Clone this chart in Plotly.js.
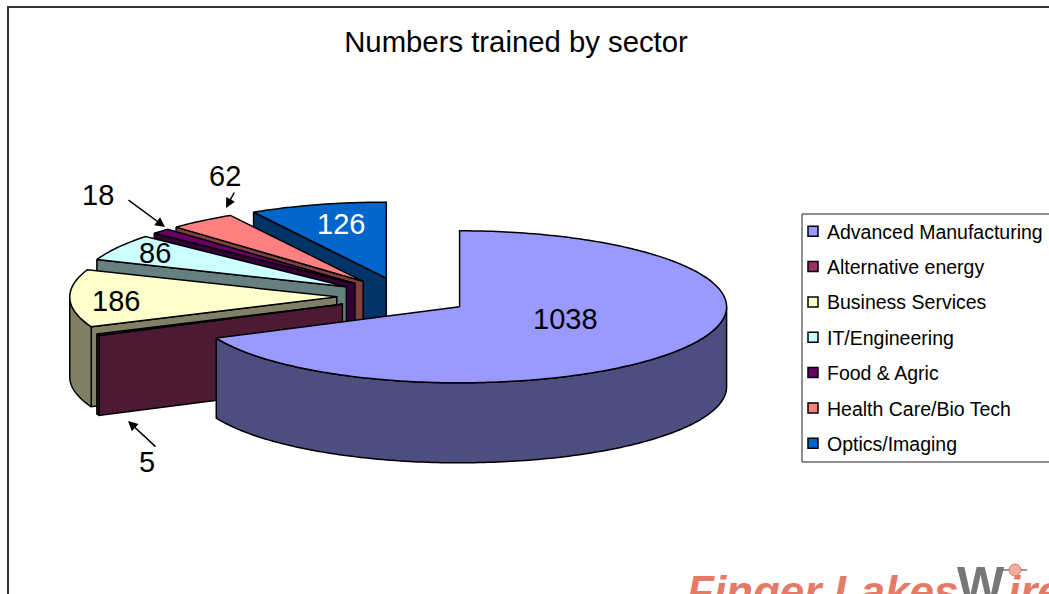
<!DOCTYPE html>
<html><head><meta charset="utf-8">
<script src="https://cdn.plot.ly/plotly-3.0.1.min.js"></script>
<style>html,body{margin:0;padding:0;background:#fff;overflow:hidden}</style>
</head><body><div id="chart" style="width:1049px;height:594px"></div>
<script>
const categories = ["Advanced Manufacturing","Alternative energy","Business Services","IT/Engineering","Food & Agric","Health Care/Bio Tech","Optics/Imaging"];
const values = [1038,5,186,86,18,62,126];
const topColors = ["#9999FF","#993366","#FFFFCC","#CCFFFF","#660066","#FF8080","#0066CC"];
const wallColors = ["#4D4D80","#4D1A33","#808066","#668080","#330033","#804040","#003366"];

// 3-D pie projection (axis units = page pixels)
const pie = {cx:403.5, cy:296.5, rx:267, ry:76, depth:80, explode:0.25};
const outline = {color:"#000", width:1.5};
const FONT = "Liberation Sans, Arial, sans-serif";
const rad = d => d*Math.PI/180;
const total = values.reduce((a,b)=>a+b,0);
let acc = 0;
const slices = values.map((v,i)=>{
  const start = acc/total*360; acc += v; const end = acc/total*360; const mid=(start+end)/2;
  return {i,start,end,
    cx: pie.cx + pie.explode*pie.rx*Math.sin(rad(mid)),
    cy: pie.cy - pie.explode*pie.ry*Math.cos(rad(mid))};
});
const rimPt = (s,a,dz=0)=>[s.cx+pie.rx*Math.sin(rad(a)), s.cy-pie.ry*Math.cos(rad(a))+dz];
function arc(s,a0,a1,dz=0){
  const pts=[]; const n=Math.max(2,Math.ceil(Math.abs(a1-a0)));
  for(let k=0;k<=n;k++) pts.push(rimPt(s,a0+(a1-a0)*k/n,dz));
  return pts;
}
function poly(pts,color){
  return {type:"scatter",mode:"lines",x:pts.map(p=>p[0]),y:pts.map(p=>p[1]),fill:"toself",
    fillcolor:color,line:{color:outline.color,width:outline.width,simplify:false},
    hoverinfo:"skip",showlegend:false};
}
const traces=[];
[...slices].reverse().forEach(s=>{
  // radial wall on the start edge (only when it faces the viewer)
  if(s.start>180){
    const p=rimPt(s,s.start);
    traces.push(poly([p,[s.cx,s.cy],[s.cx,s.cy+pie.depth],[p[0],p[1]+pie.depth],p],wallColors[s.i]));
  }
  // outer rim wall, front half only
  const a0=Math.max(s.start,90), a1=Math.min(s.end,270);
  if(a1>a0){
    const up=arc(s,a0,a1), down=arc(s,a1,a0,pie.depth);
    traces.push(poly([...up,...down,up[0]],wallColors[s.i]));
  }
  // top face
  const rim=arc(s,s.start,s.end);
  traces.push(poly([[s.cx,s.cy],...rim,[s.cx,s.cy]],topColors[s.i]));
});
// legend entries
categories.forEach((c,i)=>traces.push({type:"scatter",mode:"markers",x:[null],y:[null],name:c,legendgroup:c,
  marker:{symbol:"square",size:10,color:topColors[i],line:{color:"#000",width:1.5}},hoverinfo:"skip"}));

const labelPos = [[565,319],[147,462],[116,301],[155,253],[98,195],[225,176],[341,224]];
const labelColor = ["#000","#000","#000","#000","#000","#000","#fff"];
const annotations = values.map((v,i)=>({xref:"x",yref:"y",x:labelPos[i][0],y:labelPos[i][1],text:String(v),showarrow:false,
  xanchor:"center",yanchor:"middle",font:{family:FONT,size:29,color:labelColor[i]}}));
const arrows = [[157,448,128,421],[127,199,165,227],[235,191,226,208]];
arrows.forEach(a=>annotations.push({xref:"x",yref:"y",axref:"x",ayref:"y",ax:a[0],ay:a[1],x:a[2],y:a[3],text:"",showarrow:true,
  arrowhead:2,arrowsize:1.3,arrowwidth:1.5,arrowcolor:"#000"}));
// cropped logo at the foot of the page
annotations.push({xref:"x",yref:"y",x:685,y:565,text:"<b><i>Finger Lakes</i></b>",showarrow:false,xanchor:"left",yanchor:"top",
  font:{family:FONT,size:44,color:"#E57A68"}});
annotations.push({xref:"x",yref:"y",x:955,y:555,text:"<b>W</b>",showarrow:false,xanchor:"left",yanchor:"top",
  font:{family:FONT,size:50,color:"#777"}});
annotations.push({xref:"x",yref:"y",x:1006,y:565,text:"<b><i>ire</i></b>",showarrow:false,xanchor:"left",yanchor:"top",
  font:{family:FONT,size:44,color:"#E57A68"}});

const layout={width:1049,height:594,margin:{l:0,r:0,t:0,b:0,pad:0,autoexpand:false},paper_bgcolor:"#fff",plot_bgcolor:"#fff",
  title:{text:"Numbers trained by sector",x:516/1049,y:1-42/594,xanchor:"center",yanchor:"middle",font:{family:FONT,size:29.3,color:"#000"}},
  xaxis:{range:[0,1049],visible:false,fixedrange:true},
  yaxis:{range:[594,0],visible:false,fixedrange:true},
  showlegend:true,
  legend:{x:802/1049,xanchor:"left",y:1-212/594,yanchor:"top",indentation:-15,itemwidth:30,tracegroupgap:7,
    font:{family:FONT,size:19.5,color:"#000"},bgcolor:"rgba(0,0,0,0)",borderwidth:0,itemclick:false,itemdoubleclick:false},
  shapes:[
    {type:"rect",xref:"x",yref:"y",x0:8,x1:1070,y0:7,y1:640,line:{color:"#333",width:2},layer:"below"},
    {type:"rect",xref:"x",yref:"y",x0:802,x1:1070,y0:214,y1:462,line:{color:"#222",width:1},layer:"below"},
    {type:"line",xref:"x",yref:"y",x0:1003,x1:1027,y0:570,y1:570,line:{color:"#999",width:2},layer:"above"},
    {type:"circle",xref:"x",yref:"y",x0:1009,x1:1021,y0:564,y1:576,line:{color:"#E57A68",width:1},fillcolor:"#F0B0A0",layer:"above"}
  ],
  annotations};
Plotly.newPlot("chart",traces,layout,{staticPlot:true,displayModeBar:false}).then(()=>{
  document.querySelectorAll(".legend .legendpoints").forEach(g=>g.setAttribute("transform","translate(6,0)"));
});
</script></body></html>
